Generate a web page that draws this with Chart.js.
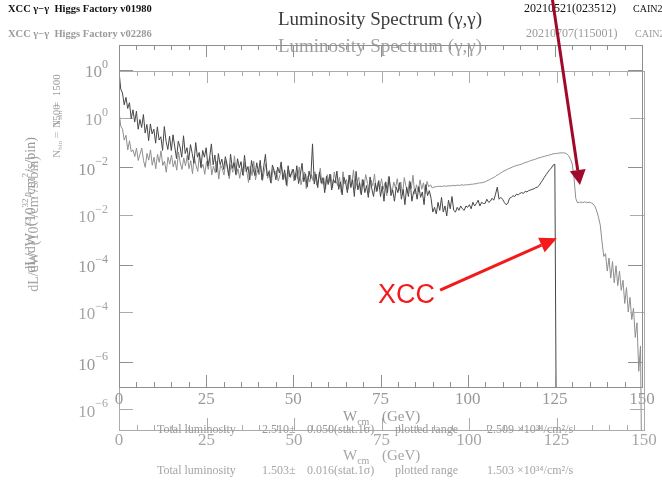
<!DOCTYPE html>
<html>
<head>
<meta charset="utf-8">
<title>Luminosity Spectrum (γ,γ)</title>
<script src="https://cdn.jsdelivr.net/npm/chart.js@4.4.1/dist/chart.umd.min.js"></script>
<style>
  html, body { margin: 0; padding: 0; background: #fff; }
  #stack { position: relative; width: 662px; height: 482px; overflow: hidden; }
  #stack canvas { position: absolute; left: 0; top: 0; }
</style>
</head>
<body>
<div id="stack">
  <canvas id="runB" width="662" height="482"></canvas>
  <canvas id="runA" width="662" height="482"></canvas>
</div>
<script>
// histogram bins are 0.5 GeV wide, starting at W = 0
const binWidth = 0.5;
const wLabels = [0, 25, 50, 75, 100, 125, 150];
const decadeExps = [0, -2, -4, -6];

// run v01980 (XCC), dL/dW per bin, W = 0 .. 125.5 GeV
const lumiA = [
  0.93, 0.40, 0.33, 0.19, 0.27, 0.16, 0.21, 0.099, 0.15, 0.084,
  0.14, 0.060, 0.095, 0.065, 0.12, 0.050, 0.075, 0.035, 0.077, 0.048,
  0.060, 0.031, 0.067, 0.036, 0.042, 0.022, 0.068, 0.034, 0.023, 0.043,
  0.022, 0.046, 0.026, 0.015, 0.034, 0.026, 0.016, 0.044, 0.019, 0.025,
  0.014, 0.029, 0.019, 0.012, 0.032, 0.016, 0.020, 0.0099, 0.022, 0.016,
  0.025, 0.0105, 0.016, 0.030, 0.0112, 0.0177, 0.0079, 0.019, 0.0113, 0.0146,
  0.0090, 0.0164, 0.0114, 0.0067, 0.0184, 0.0095, 0.0124, 0.0071, 0.0149, 0.0097,
  0.0130, 0.0069, 0.0175, 0.0081, 0.0103, 0.0055, 0.0137, 0.0090, 0.0067, 0.0123,
  0.0078, 0.0138, 0.0055, 0.0101, 0.0183, 0.0066, 0.0081, 0.0048, 0.0111, 0.0086,
  0.0055, 0.0100, 0.0076, 0.0128, 0.0056, 0.0088, 0.0043, 0.0107, 0.0063, 0.0077,
  0.0090, 0.0054, 0.0107, 0.0046, 0.0070, 0.0120, 0.0050, 0.0073, 0.0039, 0.0083,
  0.0058, 0.0300, 0.0045, 0.0072, 0.0038, 0.0080, 0.0047, 0.0061, 0.0030, 0.0065,
  0.0044, 0.0072, 0.0034, 0.0056, 0.0047, 0.0083, 0.0035, 0.0050, 0.0027, 0.0062,
  0.0048, 0.0030, 0.0069, 0.0038, 0.0055, 0.0025, 0.0082, 0.0034, 0.0048, 0.0027,
  0.0055, 0.0030, 0.0042, 0.0024, 0.0063, 0.0036, 0.0025, 0.0047, 0.0032, 0.0053,
  0.0025, 0.0041, 0.0020, 0.0050, 0.0030, 0.0064, 0.0026, 0.0034, 0.0020, 0.0039,
  0.0030, 0.0048, 0.0022, 0.0035, 0.0017, 0.0039, 0.0025, 0.0050, 0.0020, 0.0031,
  0.0036, 0.0022, 0.0040, 0.0024, 0.0031, 0.0017, 0.0044, 0.0026, 0.0033, 0.0023,
  0.0012, 0.0015, 0.0011, 0.0019, 0.0013, 0.0024, 0.0012, 0.0016, 0.0010, 0.0021,
  0.0014, 0.0025, 0.0013, 0.0012, 0.0015, 0.0013, 0.0016, 0.0014, 0.0013, 0.0016,
  0.0015, 0.0017, 0.0014, 0.0019, 0.0016, 0.0018, 0.0021, 0.0016, 0.0019, 0.0018,
  0.0018, 0.0022, 0.0019, 0.0020, 0.0023, 0.0021, 0.0028, 0.0039, 0.0022, 0.0024,
  0.0022, 0.0019, 0.0017, 0.0018, 0.0023, 0.0024, 0.0026, 0.0025, 0.0028, 0.0027,
  0.0029, 0.0030, 0.0029, 0.0032, 0.0031, 0.0033, 0.0034, 0.0035, 0.0036, 0.0038,
  0.0039, 0.0042, 0.0048, 0.0054, 0.0062, 0.0070, 0.0079, 0.0088, 0.0096, 0.0110,
  0.0115, 0
];

// run v02286, dL/dW per bin, W = 0 .. 150 GeV
const lumiB = [
  1.38, 0.68, 0.59, 0.35, 0.44, 0.22, 0.34, 0.20, 0.22, 0.16,
  0.24, 0.133, 0.18, 0.24, 0.133, 0.096, 0.186, 0.135, 0.22, 0.106,
  0.155, 0.090, 0.178, 0.122, 0.21, 0.105, 0.129, 0.076, 0.156, 0.112,
  0.172, 0.098, 0.133, 0.084, 0.20, 0.118, 0.087, 0.150, 0.103, 0.170,
  0.090, 0.132, 0.071, 0.16, 0.106, 0.079, 0.185, 0.092, 0.111, 0.069,
  0.127, 0.087, 0.154, 0.067, 0.103, 0.074, 0.129, 0.055, 0.108, 0.090,
  0.067, 0.132, 0.087, 0.056, 0.110, 0.076, 0.166, 0.066, 0.090, 0.057,
  0.097, 0.064, 0.120, 0.079, 0.047, 0.101, 0.065, 0.129, 0.053, 0.083,
  0.067, 0.102, 0.051, 0.079, 0.114, 0.057, 0.084, 0.045, 0.090, 0.068,
  0.082, 0.050, 0.067, 0.099, 0.053, 0.072, 0.039, 0.083, 0.058, 0.088,
  0.050, 0.074, 0.056, 0.098, 0.042, 0.060, 0.077, 0.035, 0.064, 0.048,
  0.068, 0.050, 0.078, 0.041, 0.055, 0.092, 0.043, 0.058, 0.034, 0.068,
  0.047, 0.068, 0.036, 0.077, 0.050, 0.040, 0.060, 0.029, 0.078, 0.044,
  0.054, 0.034, 0.067, 0.043, 0.085, 0.035, 0.047, 0.060, 0.028, 0.055,
  0.039, 0.068, 0.045, 0.029, 0.053, 0.040, 0.070, 0.030, 0.047, 0.034,
  0.056, 0.034, 0.046, 0.025, 0.062, 0.041, 0.029, 0.048, 0.036, 0.056,
  0.032, 0.048, 0.026, 0.059, 0.039, 0.029, 0.051, 0.035, 0.066, 0.027,
  0.042, 0.030, 0.053, 0.034, 0.046, 0.027, 0.049, 0.038, 0.042, 0.036,
  0.038, 0.038, 0.039, 0.039, 0.039, 0.039, 0.040, 0.039, 0.040, 0.040,
  0.040, 0.041, 0.040, 0.041, 0.041, 0.041, 0.042, 0.041, 0.042, 0.042,
  0.042, 0.043, 0.043, 0.044, 0.044, 0.045, 0.046, 0.046, 0.047, 0.048,
  0.050, 0.052, 0.054, 0.057, 0.059, 0.062, 0.066, 0.069, 0.073, 0.077,
  0.081, 0.084, 0.088, 0.091, 0.094, 0.098, 0.102, 0.104, 0.107, 0.109,
  0.112, 0.116, 0.120, 0.123, 0.127, 0.131, 0.135, 0.138, 0.142, 0.146,
  0.151, 0.154, 0.158, 0.161, 0.166, 0.169, 0.173, 0.177, 0.182, 0.184,
  0.186, 0.188, 0.190, 0.191, 0.191, 0.189, 0.180, 0.166, 0.141, 0.112,
  0.058, 0.022, 0.0178, 0.0182, 0.0185, 0.0180, 0.0186, 0.0183, 0.0181, 0.0184,
  0.0176, 0.0168, 0.0150, 0.0120, 0.0090, 0.0062, 0.0028, 0.0014, 0.0016, 0.0007,
  0.0013, 0.0005, 0.0011, 0.0004, 0.0009, 0.00035, 0.0007, 0.00028, 0.00045, 0.00015,
  0.00032, 0.0001, 0.0002, 0.00007, 0.00012, 0.00003, 0.00006, 0.000006, 0.00002, 0,
  0
];

const totalsA = ['2.510\u00b1', '0.050(stat.1\u03c3)', '2.509 \u00d710\u00b3\u2074/cm\u00b2/s'];
const totalsB = ['1.503\u00b1', '0.016(stat.1\u03c3)', '1.503 \u00d710\u00b3\u2074/cm\u00b2/s'];

const SERIF = '"Liberation Serif", "DejaVu Serif", serif';

// empty bins are drawn down to the floor of the log axis
function toPoints(vals, floor) {
  return vals.map((v, i) => ({ x: i * binWidth, y: v > 0 ? v : floor }));
}

// draw a row of text pieces [text, size, dy] starting at x
function drawRuns(ctx, x, y, parts, align, weight) {
  let total = 0;
  parts.forEach(p => {
    ctx.font = (weight || '') + ' ' + p[1] + 'px ' + SERIF;
    total += ctx.measureText(p[0]).width;
  });
  let cx = align === 'center' ? x - total / 2 : align === 'right' ? x - total : x;
  ctx.textAlign = 'left';
  ctx.textBaseline = 'middle';
  parts.forEach(p => {
    ctx.font = (weight || '') + ' ' + p[1] + 'px ' + SERIF;
    ctx.fillText(p[0], cx, y + (p[2] || 0));
    cx += ctx.measureText(p[0]).width;
  });
}

function cainFrame(look) {
  return {
    id: 'cainFrame',
    afterDraw(chart) {
      const { ctx, chartArea: a } = chart;
      const xs = chart.scales.x, ys = chart.scales.y;
      ctx.save();

      // frame with inward ticks
      ctx.strokeStyle = look.frame;
      ctx.lineWidth = 1;
      ctx.strokeRect(a.left + 0.5, a.top + 0.5, a.right - a.left, a.bottom - a.top);
      ctx.beginPath();
      for (let w = 0; w <= 150; w += 5) {
        const px = Math.round(xs.getPixelForValue(w)) + 0.5;
        const len = w % 25 === 0 ? 12 : 5;
        ctx.moveTo(px, a.top); ctx.lineTo(px, a.top + len);
        ctx.moveTo(px, a.bottom); ctx.lineTo(px, a.bottom - len);
      }
      decadeExps.forEach(e => {
        const py = Math.round(ys.getPixelForValue(Math.pow(10, e))) + 0.5;
        ctx.moveTo(a.left, py); ctx.lineTo(a.left + 14, py);
        ctx.moveTo(a.right, py); ctx.lineTo(a.right - 14, py);
      });
      ctx.stroke();

      // tick labels
      ctx.fillStyle = look.tickText;
      wLabels.forEach(w => {
        drawRuns(ctx, xs.getPixelForValue(w), look.xLabelY, [[String(w), 17, 0]], 'center');
      });
      decadeExps.forEach(e => {
        const py = ys.getPixelForValue(Math.pow(10, e));
        const exp = e === 0 ? '0' : '\u2212' + (-e);
        drawRuns(ctx, 108, py + 3, [['10', 17, 0], [exp, 12, -8]], 'right');
      });

      // axis titles
      drawRuns(ctx, 343, look.wTitleY, [['W', 15, 0], ['cm', 10, 5]], 'left');
      drawRuns(ctx, 382, look.wTitleY, [['(GeV)', 15, 0]], 'left');

      ctx.save();
      ctx.translate(look.yTitle[0], look.yTitle[1]);
      ctx.rotate(-Math.PI / 2);
      drawRuns(ctx, 0, 0, [['dL/dW  (10', 14, 0], ['32', 9, -5], ['/cm', 14, 0], ['2', 9, -5], ['/s/bin)', 14, 0]], 'center');
      ctx.restore();

      ctx.save();
      ctx.translate(look.nBin[0], look.nBin[1]);
      ctx.rotate(-Math.PI / 2);
      drawRuns(ctx, 0, 0, [['N', 11, 0], ['bin', 7, 3], [' =  1500', 11, 0]], 'center');
      ctx.restore();

      // totals line under the axis
      const t = look.totals;
      drawRuns(ctx, 157, look.totalY, [['Total luminosity', 12, 0]], 'left');
      drawRuns(ctx, 262, look.totalY, [[t[0], 12, 0]], 'left');
      drawRuns(ctx, 307, look.totalY, [[t[1], 12, 0]], 'left');
      drawRuns(ctx, 395, look.totalY, [['plotted range', 12, 0]], 'left');
      drawRuns(ctx, 487, look.totalY, [[t[2], 12, 0]], 'left');

      // page header and title
      ctx.fillStyle = look.header;
      drawRuns(ctx, 8, look.headerY, [['XCC \u03b3\u2212\u03b3  Higgs Factory ' + look.version, 10.5, 0]], 'left', 'bold');
      drawRuns(ctx, look.dateX, look.headerY, [[look.stamp, 12, 0]], 'left');
      drawRuns(ctx, look.dateX + 109, look.headerY, [['CAIN2', 10, 0]], 'left');
      ctx.fillStyle = look.title;
      drawRuns(ctx, 380, look.titleY, [['Luminosity Spectrum (\u03b3,\u03b3)', 19, 0]], 'center');

      ctx.restore();
    }
  };
}

// red call-outs, placed in the W / dL/dW coordinates of run A
const xccLabel = { text: 'XCC', w: 74.3, v: 2.3e-5 };
const xccArrow = { from: { w: 92.1, v: 3.0e-5 }, to: { w: 125.6, v: 3.5e-4 } };
const edgeArrow = { from: { w: 124.2, v: 31 }, to: { w: 132.2, v: 4.3e-3 } };

function arrow(ctx, x0, y0, x1, y1, color, width, headLen, headHalf) {
  const ang = Math.atan2(y1 - y0, x1 - x0);
  const bx = x1 - headLen * Math.cos(ang), by = y1 - headLen * Math.sin(ang);
  ctx.strokeStyle = color;
  ctx.lineWidth = width;
  ctx.beginPath();
  ctx.moveTo(x0, y0);
  ctx.lineTo(bx, by);
  ctx.stroke();
  ctx.fillStyle = color;
  ctx.beginPath();
  ctx.moveTo(x1, y1);
  ctx.lineTo(bx + headHalf * Math.sin(ang), by - headHalf * Math.cos(ang));
  ctx.lineTo(bx - headHalf * Math.sin(ang), by + headHalf * Math.cos(ang));
  ctx.closePath();
  ctx.fill();
}

const callouts = {
  id: 'callouts',
  afterDraw(chart) {
    const { ctx } = chart;
    const xs = chart.scales.x, ys = chart.scales.y;
    const px = p => [xs.getPixelForValue(p.w), ys.getPixelForValue(p.v)];
    ctx.save();
    const a0 = px(xccArrow.from), a1 = px(xccArrow.to);
    arrow(ctx, a0[0], a0[1], a1[0], a1[1], '#f21a1a', 3, 17, 8);
    const e0 = px(edgeArrow.from), e1 = px(edgeArrow.to);
    arrow(ctx, e0[0], e0[1], e1[0], e1[1], '#a00a2a', 3, 15, 8);
    const l = px(xccLabel);
    ctx.fillStyle = '#f21a1a';
    ctx.font = '27px "Liberation Sans", Arial, sans-serif';
    ctx.textAlign = 'left';
    ctx.textBaseline = 'middle';
    ctx.fillText(xccLabel.text, l[0], l[1]);
    ctx.restore();
  }
};

function makeRun(id, values, look, extra) {
  return new Chart(document.getElementById(id), {
    type: 'line',
    data: {
      datasets: [{
        data: toPoints(values, look.yMin / 100),
        borderColor: look.line,
        borderWidth: 1,
        pointRadius: 0,
        tension: 0
      }]
    },
    options: {
      responsive: false,
      animation: false,
      devicePixelRatio: 1,
      layout: { padding: look.pad },
      scales: {
        x: { type: 'linear', min: 0, max: 150, display: false },
        y: { type: 'logarithmic', min: look.yMin, max: look.yMax, display: false }
      },
      plugins: {
        legend: { display: false },
        tooltip: { enabled: false },
        title: { display: false }
      }
    },
    plugins: [cainFrame(look)].concat(extra || [])
  });
}

makeRun('runB', lumiB, {
  pad: { left: 119, top: 71, right: 18, bottom: 52 },
  yMin: 3.7e-7, yMax: 9.3,
  line: '#8e8e8e', frame: '#ababab', tickText: '#a6a6a6',
  header: '#9a9a9a', title: '#a0a0a0',
  version: 'v02286', stamp: '20210707(115001)', dateX: 526,
  headerY: 34, titleY: 47, xLabelY: 441, wTitleY: 456, totalY: 471,
  yTitle: [34, 224], nBin: [57, 131], totals: totalsB
});

makeRun('runA', lumiA, {
  pad: { left: 119, top: 45, right: 20, bottom: 95 },
  yMin: 3.1e-7, yMax: 3.2,
  line: '#464646', frame: '#8f8f8f', tickText: '#999999',
  header: '#111111', title: '#3a3a3a',
  version: 'v01980', stamp: '20210521(023512)', dateX: 524,
  headerY: 9, titleY: 20, xLabelY: 400, wTitleY: 417, totalY: 430,
  yTitle: [31, 205], nBin: [57, 101], totals: totalsA
}, [callouts]);
</script>
</body>
</html>
